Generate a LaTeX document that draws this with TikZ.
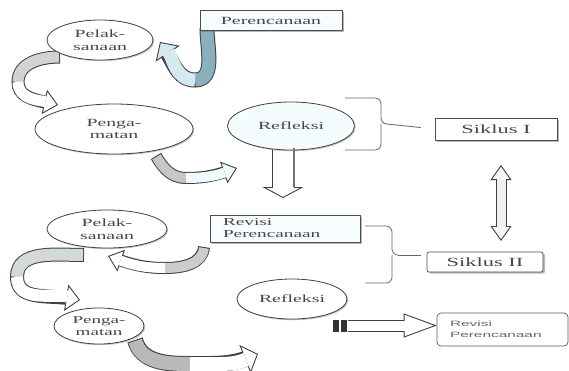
\documentclass[tikz,border=0pt]{standalone}
\usepackage{fontspec}
\setmainfont{Liberation Serif}[FakeStretch=1.8]
\newfontfamily\smallsans{Liberation Sans}[FakeStretch=2.0]
\usetikzlibrary{arrows.meta,bending,shadows,shapes.geometric}
\pgfdeclarelayer{bg}
\pgfdeclarelayer{back}
\pgfsetlayers{back,bg,main}
\definecolor{steelA}{RGB}{140,175,188}
\definecolor{paleA}{RGB}{212,234,240}
\definecolor{txt}{RGB}{70,70,70}
\newcommand{\curvarr}[8]{%
  \pgfmathsetmacro\arrw{#3}%
  \pgfmathsetmacro\arriw{#3-2}%
  \pgfmathsetmacro\arrhw{1.9*#3}%
  \draw[draw=black!75, line width=\arrw pt, -{Triangle[width=\arrhw pt,length=14pt,line width=0.9pt,fill=#2]}] (#4) to[#5] (#6) to[#7] (#8);
  \draw[draw=#1, line width=\arriw pt, shorten <=1pt] (#4) to[#5] (#6);
  \draw[draw=#2, line width=\arriw pt, shorten >=13pt] (#6) to[#7] (#8);
}
\newcommand{\straightarr}[6]{%
  \pgfmathsetmacro\arrw{#2}%
  \pgfmathsetmacro\arriw{#2-2}%
  \pgfmathsetmacro\arrsh{#4-1}%
  \draw[draw=black!75, line width=\arrw pt, -{Triangle[width=#3pt,length=#4pt,line width=0.9pt,fill=#1]}] (#5) -- (#6);
  \draw[draw=#1, line width=\arriw pt, shorten >=\arrsh pt] (#5) -- (#6);
}
\begin{document}
\begin{tikzpicture}[x=1pt,y=1pt,
  ell/.style={ellipse, draw=black!75, line width=0.8pt, fill=white, align=center,
    text=txt, inner sep=0pt,
    drop shadow={shadow xshift=1.2pt,shadow yshift=-1.2pt,fill=black!45}},
  sbox/.style={rectangle, draw=black!70, line width=0.7pt, fill=cyan!3, text=txt,
    inner sep=0pt,
    drop shadow={shadow xshift=2pt,shadow yshift=-1.5pt,fill=black!55}},
  brc/.style={draw=black!60, line width=0.8pt, rounded corners=6pt},
  tf/.style={font=\fontsize{11}{12.5}\selectfont}
]
\useasboundingbox (0,0) rectangle (569,-370);
\begin{pgfonlayer}{back}
\fill[white] (0,0) rectangle (569,-370);
\end{pgfonlayer}

% ---------- nodes ----------
\node[sbox, tf, minimum width=142pt, minimum height=20pt] (perc) at (271,-20.5) {Perencanaan};
\node[ell, tf, minimum width=106pt, minimum height=40pt] (pel1) at (100,-40) {Pelak-\\sanaan};
\node[ell, tf, minimum width=158pt, minimum height=50pt] (peng1) at (114,-129) {Penga-\\matan};
\node[ell, tf, fill=cyan!4, minimum width=127pt, minimum height=48pt] (ref1) at (291,-126) {Refleksi};
\node[sbox, fill=white, font=\fontsize{12.5}{14}\selectfont, minimum width=122pt, minimum height=22pt] (sik1) at (496,-129) {Siklus I};

\node[sbox, font=\fontsize{10.7}{12}\selectfont, minimum width=150pt, minimum height=27pt,
  text width=124pt, align=left] (rev) at (285,-228.5) {Revisi\\Perencanaan};
\node[sbox, fill=white, font=\fontsize{12.5}{14}\selectfont, minimum width=116pt, minimum height=20pt,
  rounded corners=2pt] (sik2) at (485,-262) {Siklus II};
\node[ell, tf, minimum width=120pt, minimum height=38pt] (pel2) at (107,-229) {Pelak-\\sanaan};
\node[ell, font=\fontsize{10.6}{12}\selectfont, minimum width=90pt, minimum height=36pt] (peng2) at (99,-326) {Penga-\\matan};
\node[ell, tf, minimum width=110pt, minimum height=40pt] (ref2) at (292,-299) {Refleksi};
\node[rectangle, rounded corners=4pt, draw=black!65, line width=0.7pt, fill=white,
  minimum width=131pt, minimum height=33pt, text width=105pt, align=left, inner sep=0pt,
  text=black!60, font=\smallsans\fontsize{7.7}{11}\selectfont] (rev2) at (502.5,-329.5) {Revisi\\Perencanaan};

% ---------- coordinates ----------
\coordinate (aS) at (207,-28);  \coordinate (aM) at (195,-80);  \coordinate (aE) at (160,-42);
\coordinate (bS) at (60,-57);   \coordinate (bM) at (18,-82);   \coordinate (bE) at (58,-105);
\coordinate (cS) at (156,-156); \coordinate (cM) at (186,-178); \coordinate (cE) at (237,-168);
\coordinate (gS) at (204,-247); \coordinate (gM) at (165,-268); \coordinate (gE) at (108,-256);
\coordinate (hS) at (84,-255);  \coordinate (hM) at (17,-277);  \coordinate (hE) at (80,-300);
\coordinate (iS) at (135,-340); \coordinate (iM) at (190,-364); \coordinate (iE) at (258,-354);
\coordinate (dS) at (283,-148); \coordinate (dE) at (283,-198);
\coordinate (eS) at (501,-165); \coordinate (eE) at (501,-241);
\coordinate (fS) at (348,-325.5);
\coordinate (bt1) at (387,-124);
\coordinate (bt2) at (398,-255);

% ---------- arrows (behind nodes) ----------
\begin{pgfonlayer}{bg}
\curvarr{steelA}{paleA}{15}{aS}{out=-90,in=0}{aM}{out=180,in=-50}{aE}
\curvarr{gray!35}{white}{13}{bS}{out=180,in=90}{bM}{out=-90,in=165}{bE}
\curvarr{gray!45}{cyan!6}{12}{cS}{out=-60,in=180}{cM}{out=0,in=200}{cE}
\curvarr{gray!40}{white}{12}{gS}{out=-95,in=0}{gM}{out=180,in=-20}{gE}
\curvarr{green!8!gray!32}{white}{14}{hS}{out=180,in=90}{hM}{out=-90,in=165}{hE}
\curvarr{gray!55}{white}{16}{iS}{out=-75,in=180}{iM}{out=0,in=205}{iE}
\straightarr{white}{23}{41}{11}{dS}{dE}
\end{pgfonlayer}
\draw[black!55, line width=1.6pt] ([xshift=11.2pt]dS) -- ([xshift=11.2pt,yshift=11pt]dE);

% double arrow between cycles
\draw[draw=black!75, line width=11pt,
  {Triangle[width=21pt,length=15pt,line width=0.9pt,fill=gray!8]}-{Triangle[width=21pt,length=15pt,line width=0.9pt,fill=gray!8]}] (eS) -- (eE);
\draw[draw=gray!12, line width=9pt, shorten <=14pt, shorten >=14pt] (eS) -- (eE);

% bottom straight arrow
\straightarr{white}{12}{24}{33}{fS}{rev2.west |- fS}
\fill[black!80] (333,-319.5) rectangle (338.5,-331.5);
\fill[black!80] (341,-319.5) rectangle (346.5,-331.5);

% ---------- braces ----------
\draw[brc] (345,-98) -- (381,-98) -- (381,-124) -- (bt1);
\draw[brc] (345,-150) -- (381,-150) -- (381,-124);
\draw[draw=black!60, line width=0.8pt, shorten >=14pt] (bt1) -- (sik1.west);
\draw[brc] (365,-226) -- (392,-226) -- (392,-255) -- (bt2);
\draw[brc] (365,-283) -- (392,-283) -- (392,-255);
\draw[draw=black!60, line width=0.8pt, shorten >=6pt] (bt2) -- (sik2.west |- bt2);
\end{tikzpicture}
\end{document}
